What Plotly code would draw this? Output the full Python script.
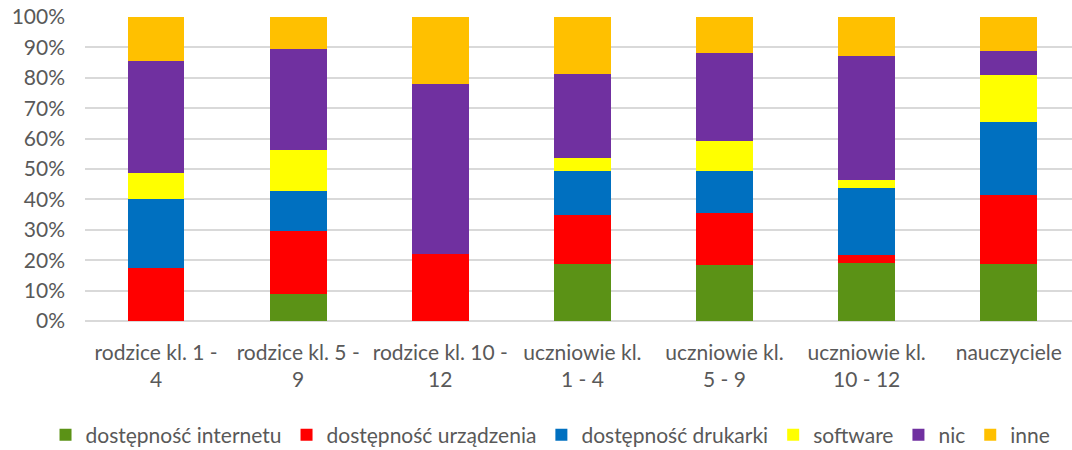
import plotly.graph_objects as go

categories = [
    "rodzice kl. 1 -<br>4",
    "rodzice kl. 5 -<br>9",
    "rodzice kl. 10 -<br>12",
    "uczniowie kl.<br>1 - 4",
    "uczniowie kl.<br>5 - 9",
    "uczniowie kl.<br>10 - 12",
    "nauczyciele",
]

series_names = [
    "dostępność internetu",
    "dostępność urządzenia",
    "dostępność drukarki",
    "software",
    "nic",
    "inne",
]

internet = [0, 8.8, 0, 18.6, 18.4, 19.0, 18.6]
urzadzenia = [17.6, 20.8, 21.9, 16.2, 17.1, 2.8, 22.9]
drukarki = [22.5, 13.1, 0, 14.6, 13.9, 21.8, 23.9]
software = [8.6, 13.6, 0, 4.2, 9.9, 2.7, 15.5]
nic = [36.9, 33.3, 56.1, 27.7, 28.8, 40.8, 7.8]
inne = [14.4, 10.4, 22.0, 18.7, 11.9, 12.9, 11.3]

y_ticks = [0, 10, 20, 30, 40, 50, 60, 70, 80, 90, 100]

colors = ["#5B9216", "#FF0000", "#0070C0", "#FFFF00", "#7030A0", "#FFC000"]
all_values = [internet, urzadzenia, drukarki, software, nic, inne]

FONT = "Lato"
TEXT_COLOR = "#595959"

fig = go.Figure()
for name, vals, col in zip(series_names, all_values, colors):
    fig.add_trace(go.Bar(
        x=list(range(len(categories))),
        y=vals,
        name=name,
        marker=dict(color=col, line=dict(width=0)),
        width=0.4,
    ))

fig.update_layout(
    barmode="stack",
    width=1072,
    height=450,
    margin=dict(l=85, r=0, t=17, b=129, autoexpand=False),
    plot_bgcolor="white",
    paper_bgcolor="white",
    font=dict(family=FONT, size=21, color=TEXT_COLOR),
    showlegend=True,
    legend=dict(
        orientation="h",
        xref="paper", yref="paper",
        x=-0.04, xanchor="left",
        y=-0.375, yanchor="middle",
        font=dict(family=FONT, size=21, color=TEXT_COLOR),
        itemwidth=30,
        traceorder="normal",
        bgcolor="rgba(0,0,0,0)",
    ),
    xaxis=dict(
        tickmode="array",
        tickvals=list(range(len(categories))),
        ticktext=categories,
        range=[-0.5, 6.445],
        showgrid=False,
        zeroline=False,
        showline=False,
        ticks="",
        automargin=False,
        tickfont=dict(family=FONT, size=21, color=TEXT_COLOR),
        ticklabelstandoff=17,
    ),
    yaxis=dict(
        range=[0, 100],
        tickmode="array",
        tickvals=y_ticks,
        ticktext=[f"{v}%" for v in y_ticks],
        showgrid=True,
        gridcolor="#D9D9D9",
        gridwidth=1.5,
        zeroline=True,
        zerolinecolor="#D9D9D9",
        zerolinewidth=1.5,
        showline=False,
        ticks="",
        automargin=False,
        tickfont=dict(family=FONT, size=21, color=TEXT_COLOR),
        ticklabelstandoff=19,
    ),
)

fig.write_html(
    "out.html",
    config={"displayModeBar": False},
    post_script="document.body.style.margin='0px';document.body.style.padding='0px';",
)
